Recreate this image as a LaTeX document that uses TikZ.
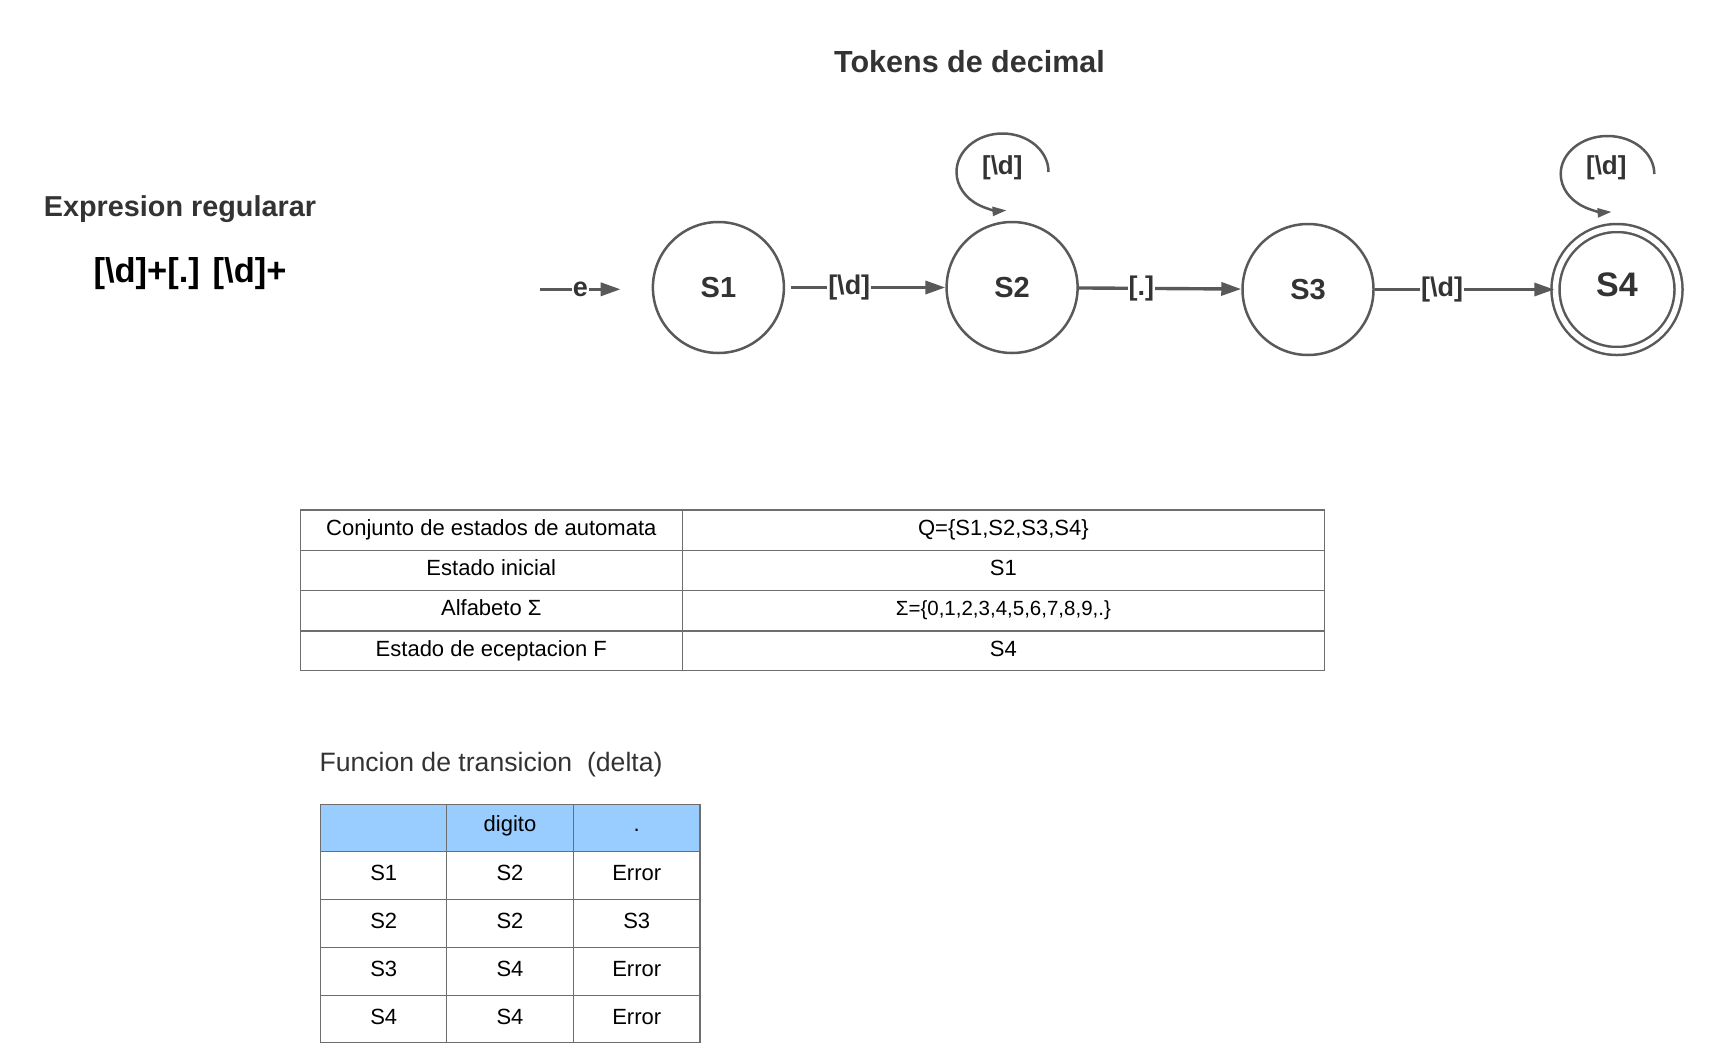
\documentclass[tikz,border=0pt]{standalone}
\usepackage{fontspec}
\setmainfont{Liberation Sans}
\usetikzlibrary{arrows.meta}
\definecolor{lineC}{HTML}{595959}
\definecolor{txtC}{HTML}{333333}
\definecolor{gridC}{HTML}{6E6E6E}
\definecolor{headC}{HTML}{99CCFF}
\begin{document}
\begin{tikzpicture}[x=1pt,y=-1pt,
  statebox/.style={circle, draw=lineC, line width=2.5pt, minimum size=131pt, inner sep=0pt,
    text=txtC, font=\fontsize{29}{34}\selectfont\bfseries},
  edge/.style={draw=lineC, line width=3.4pt, -{Triangle[length=20pt,width=13pt]}},
  loopedge/.style={draw=lineC, line width=2.5pt, -{Triangle[length=14pt,width=9pt]}},
  elabel/.style={fill=white, inner sep=1pt, text=txtC, font=\fontsize{27}{32}\selectfont\bfseries},
  llabel/.style={inner sep=0pt, text=txtC, font=\fontsize{26}{30}\selectfont\bfseries},
  gridline/.style={draw=gridC, line width=1.4pt},
  celltxt/.style={anchor=base, inner sep=0pt, text=black, font=\fontsize{22}{26}\selectfont},
  smalltxt/.style={anchor=base, inner sep=0pt, text=black, font=\fontsize{20.5}{24}\selectfont}
]
\useasboundingbox (0,0) rectangle (1712,1063);

% titles
\node[anchor=base, inner sep=0pt, text=txtC, font=\fontsize{30.5}{36}\selectfont\bfseries] (title) at (969.5,72.3) {Tokens de decimal};
\node[anchor=base west, inner sep=0pt, text=txtC, font=\fontsize{28.8}{34}\selectfont\bfseries] (exprT) at (43.7,216) {Expresion regularar};
\node[anchor=base, inner sep=0pt, text=black, font=\fontsize{34.5}{40}\selectfont\bfseries] (regex) at (190,282.5) {[\textbackslash d]+[.] [\textbackslash d]+};

% states
\node[statebox] (s1) at (718.4,287.5) {S1};
\node[statebox] (s2) at (1012.1,287.5) {S2};
\node[statebox] (s3) at (1308,289.5) {S3};
\node[statebox, double, double distance=5.5pt, minimum size=123pt] (s4) at (1617,289.5) {};
\node[inner sep=0pt, text=txtC, font=\fontsize{34}{40}\selectfont\bfseries] (s4t) at (1617,284.3) {S4};

% initial arrow
\coordinate (i0) at (540.2,289.3);
\coordinate (i1) at (620.7,289.3);
\draw[edge] (i0) -- node[elabel]{e} (i1);

% transitions
\draw[edge, shorten <=6pt] (s1) -- node[elabel, pos=0.4]{[\textbackslash d]} (s2);
\draw[edge] (s2) -- node[elabel, pos=0.385]{[.]} (s3);
\draw[edge] (s3) -- node[elabel, pos=0.375]{[\textbackslash d]} (s4);

% self loops
\coordinate (l2) at (1048.5,172);
\draw[loopedge] (l2) arc[start angle=0, end angle=-275, x radius=46, y radius=38.5];
\node[llabel] (l2t) at (1002.3,167.7) {[\textbackslash d]};
\coordinate (l4) at (1654.3,174);
\draw[loopedge] (l4) arc[start angle=0, end angle=-275, x radius=46.8, y radius=38];
\node[llabel] (l4t) at (1606.3,168) {[\textbackslash d]};

% table 1
\draw[gridline] (300.2,509.9) rectangle (1324.4,670.4);
\draw[gridline] (300.2,550.3) -- (1324.4,550.3);
\draw[gridline] (300.2,590.7) -- (1324.4,590.7);
\draw[gridline] (300.2,631) -- (1324.4,631);
\draw[gridline] (682.4,509.9) -- (682.4,670.4);
\node[celltxt] (a1) at (491.3,535) {Conjunto de estados de automata};
\node[celltxt] (b1) at (1003.4,535) {Q=\{S1,S2,S3,S4\}};
\node[celltxt] (a2) at (491.3,575.3) {Estado inicial};
\node[celltxt] (b2) at (1003.4,575.3) {S1};
\node[celltxt] (a3) at (491.3,615.7) {Alfabeto Σ};
\node[smalltxt] (b3) at (1003.4,615.7) {Σ=\{0,1,2,3,4,5,6,7,8,9,.\}};
\node[celltxt] (a4) at (491.3,656) {Estado de eceptacion F};
\node[celltxt] (b4) at (1003.4,656) {S4};

% table 2
\node[anchor=base west, inner sep=0pt, text=txtC, font=\fontsize{26.6}{30}\selectfont] (t2title) at (319.3,771.7) {Funcion de transicion~~(delta)};
\fill[headC] (320.7,804.7) rectangle (700,851.3);
\draw[gridline] (320.7,804.7) rectangle (700,1042.3);
\foreach \yy in {851.3,899.3,947.3,995.3} \draw[gridline] (320.7,\yy) -- (700,\yy);
\foreach \xx in {446.7,573.3} \draw[gridline] (\xx,804.7) -- (\xx,1042.3);
\node[celltxt] (h2) at (510,831.7) {digito};
\node[celltxt] (h3) at (636.7,831.7) {.};
\node[celltxt] (r11) at (383.7,880.7) {S1};
\node[celltxt] (r12) at (510,880.7) {S2};
\node[celltxt] (r13) at (636.7,880.7) {Error};
\node[celltxt] (r21) at (383.7,928.7) {S2};
\node[celltxt] (r22) at (510,928.7) {S2};
\node[celltxt] (r23) at (636.7,928.7) {S3};
\node[celltxt] (r31) at (383.7,976.7) {S3};
\node[celltxt] (r32) at (510,976.7) {S4};
\node[celltxt] (r33) at (636.7,976.7) {Error};
\node[celltxt] (r41) at (383.7,1024.7) {S4};
\node[celltxt] (r42) at (510,1024.7) {S4};
\node[celltxt] (r43) at (636.7,1024.7) {Error};
\end{tikzpicture}
\end{document}
